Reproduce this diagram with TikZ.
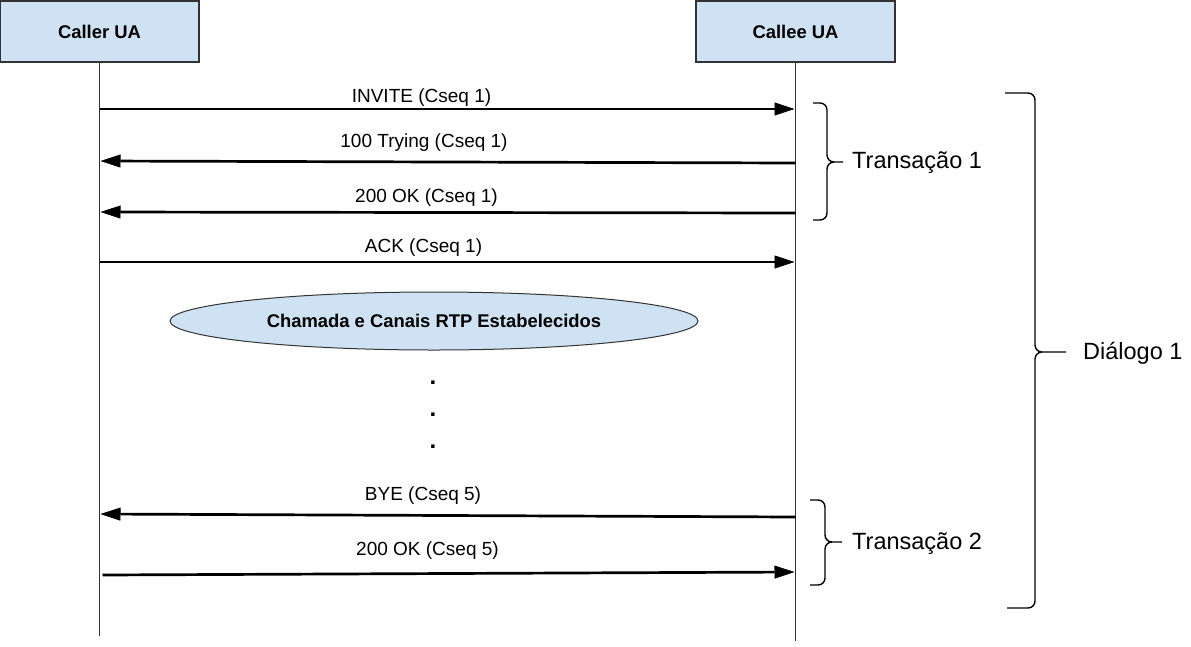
\documentclass[tikz,border=0pt]{standalone}
\usepackage{fontspec}
\setmainfont{Liberation Sans}
\usetikzlibrary{arrows.meta}
\usetikzlibrary{shapes.geometric}

\definecolor{boxblue}{RGB}{207,226,243}
\definecolor{linegray}{RGB}{51,51,51}

\begin{document}
\begin{tikzpicture}[x=1pt,y=-1pt,
    actor/.style={draw=linegray,line width=1.3pt,fill=boxblue,minimum width=199pt,minimum height=61pt,inner sep=0pt,font=\bfseries\fontsize{18.4}{20}\selectfont},
    lifeline/.style={draw=linegray,line width=1.3pt},
    msg/.style={line width=2.7pt,-{Triangle[length=20pt,width=13pt,line width=0.6pt]},shorten >=1pt},
    msglabel/.style={anchor=base,inner sep=0pt,font=\fontsize{19}{22}\selectfont},
    curly/.style={line width=1.4pt,rounded corners=7pt},
    grouplabel/.style={anchor=base west,inner sep=0pt,font=\fontsize{23.5}{26}\selectfont}]
        \useasboundingbox (0,0) rectangle (1191,646);

        % the two user agents and their lifelines
        \node[actor] (caller) at (99.5,31.5) {Caller UA};
        \node[actor] (callee) at (795.5,31.5) {Callee UA};
        \draw[lifeline] (caller.south) -- ++(0,573) coordinate (callerEnd);
        \draw[lifeline] (callee.south) -- ++(0,578) coordinate (calleeEnd);

        % transaction 1
        \draw[msg] (caller.south |- 0,109) -- (callee.south |- 0,109);
        \node[msglabel] (invite) at (421.5,102) {INVITE (Cseq 1)};
        \draw[msg] (callee.south |- 0,163) -- (caller.south |- 0,161);
        \node[msglabel] (trying) at (424,147) {100 Trying (Cseq 1)};
        \draw[msg] (callee.south |- 0,213) -- (caller.south |- 0,212);
        \node[msglabel] (okA) at (426.5,202) {200 OK (Cseq 1)};
        \draw[msg] (caller.south |- 0,262) -- (callee.south |- 0,262);
        \node[msglabel] (ack) at (423.5,252) {ACK (Cseq 1)};

        \node[ellipse,draw=linegray,line width=1pt,fill=boxblue,minimum width=528pt,minimum height=58pt,inner sep=0pt,font=\bfseries\fontsize{18.4}{20}\selectfont] (rtp) at (434,321) {Chamada e Canais RTP Estabelecidos};

        \foreach \i/\y in {1/384,2/416,3/448}
          \node[anchor=base,inner sep=0pt,font=\bfseries\fontsize{24}{24}\selectfont] (dot\i) at (433,\y) {.};

        % transaction 2
        \draw[msg] (callee.south |- 0,517) -- (caller.south |- 0,514);
        \node[msglabel] (bye) at (423,500) {BYE (Cseq 5)};
        \draw[msg] ([xshift=3pt]caller.south |- 0,575) -- (callee.south |- 0,572);
        \node[msglabel] (okB) at (427.5,555) {200 OK (Cseq 5)};

        % braces
        \draw[curly] (813,103) -- (827,103) -- (827,162) -- (843,162) (813,220) -- (827,220) -- (827,162) -- (843,162);
        \node[grouplabel] (transA) at (852,168) {Transação 1};
        \draw[curly] (810,500) -- (825,500) -- (825,542) -- (842,542) (810,585) -- (825,585) -- (825,542) -- (842,542);
        \node[grouplabel] (transB) at (852,549) {Transação 2};
        \draw[curly] (1005,93) -- (1035,93) -- (1035,352) -- (1066,352) (1007,608) -- (1035,608) -- (1035,352) -- (1066,352);
        \node[grouplabel] (dialog) at (1083,359) {Diálogo 1};
      \end{tikzpicture}
\end{document}
